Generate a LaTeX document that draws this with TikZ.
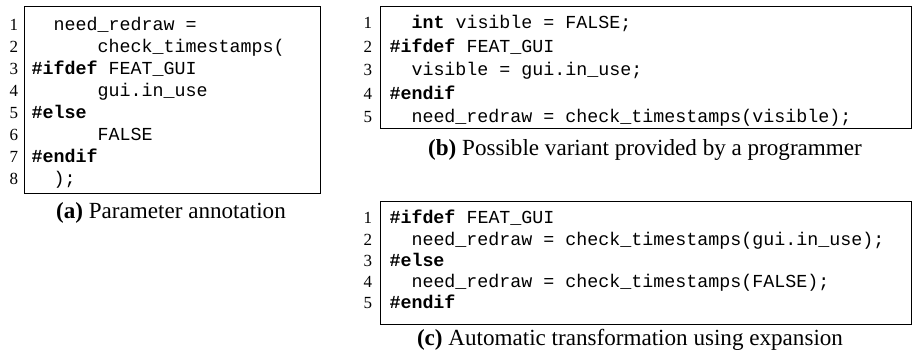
\documentclass[tikz,border=0pt]{standalone}
\usepackage{fontspec}
\setmainfont{Liberation Serif}
\setmonofont{Liberation Mono}
\newcommand{\codefnt}{\ttfamily\fontsize{18.33}{22}\selectfont}
\newcommand{\numfnt}{\rmfamily\fontsize{17}{20}\selectfont}
\newcommand{\capfnt}{\rmfamily\fontsize{23.1}{28}\selectfont}
\tikzset{
  codeline/.style={anchor=base west, inner sep=0pt, font=\codefnt},
  lnum/.style={anchor=base east, inner sep=0pt, font=\numfnt},
  captxt/.style={anchor=base, inner sep=0pt, font=\capfnt},
  frame/.style={draw=black, line width=1pt, inner sep=0pt, anchor=north west}
}
\begin{document}
\begin{tikzpicture}[x=1pt,y=-1pt]
\useasboundingbox (0,0) rectangle (912,354);
% frames
\node[frame, minimum width=296pt, minimum height=187pt] (boxa) at (24,6) {};
\node[frame, minimum width=531pt, minimum height=122pt] (boxb) at (380,6) {};
\node[frame, minimum width=531pt, minimum height=123pt] (boxc) at (380,201) {};
% (a)
\foreach \i/\y in {1/30,2/52,3/74,4/96,5/118,6/140,7/162,8/184}
  \node[lnum] (na\i) at (18.3,\y) {\i};
\node[codeline] (ca1) at (31.5,30)  {\ \ need\_redraw =};
\node[codeline] (ca2) at (31.5,52)  {\ \ \ \ \ \ check\_timestamps(};
\node[codeline] (ca3) at (31.5,74)  {\textbf{\#ifdef} FEAT\_GUI};
\node[codeline] (ca4) at (31.5,96)  {\ \ \ \ \ \ gui.in\_use};
\node[codeline] (ca5) at (31.5,118) {\textbf{\#else}};
\node[codeline] (ca6) at (31.5,140) {\ \ \ \ \ \ FALSE};
\node[codeline] (ca7) at (31.5,162) {\textbf{\#endif}};
\node[codeline] (ca8) at (31.5,184) {\ \ );};
\node[captxt] (capa) at (171,218) {\textbf{(a)} Parameter annotation};
% (b)
\foreach \i/\y in {1/28.8,2/52.2,3/75.6,4/99,5/122.4}
  \node[lnum] (nb\i) at (372.3,\y) {\i};
\node[codeline] (cb1) at (389.3,28.8)  {\ \ \textbf{int} visible = FALSE;};
\node[codeline] (cb2) at (389.3,52.2)  {\textbf{\#ifdef} FEAT\_GUI};
\node[codeline] (cb3) at (389.3,75.6)  {\ \ visible = gui.in\_use;};
\node[codeline] (cb4) at (389.3,99)    {\textbf{\#endif}};
\node[codeline] (cb5) at (389.3,122.4) {\ \ need\_redraw = check\_timestamps(visible);};
\node[captxt] (capb) at (645,155) {\textbf{(b)} Possible variant provided by a programmer};
% (c)
\foreach \i/\y in {1/223.8,2/245,3/266.2,4/287.4,5/308.6}
  \node[lnum] (nc\i) at (372.3,\y) {\i};
\node[codeline] (cc1) at (389.3,223.8) {\textbf{\#ifdef} FEAT\_GUI};
\node[codeline] (cc2) at (389.3,245)   {\ \ need\_redraw = check\_timestamps(gui.in\_use);};
\node[codeline] (cc3) at (389.3,266.2) {\textbf{\#else}};
\node[codeline] (cc4) at (389.3,287.4) {\ \ need\_redraw = check\_timestamps(FALSE);};
\node[codeline] (cc5) at (389.3,308.6) {\textbf{\#endif}};
\node[captxt] (capc) at (630,345) {\textbf{(c)} Automatic transformation using expansion};
\end{tikzpicture}
\end{document}
